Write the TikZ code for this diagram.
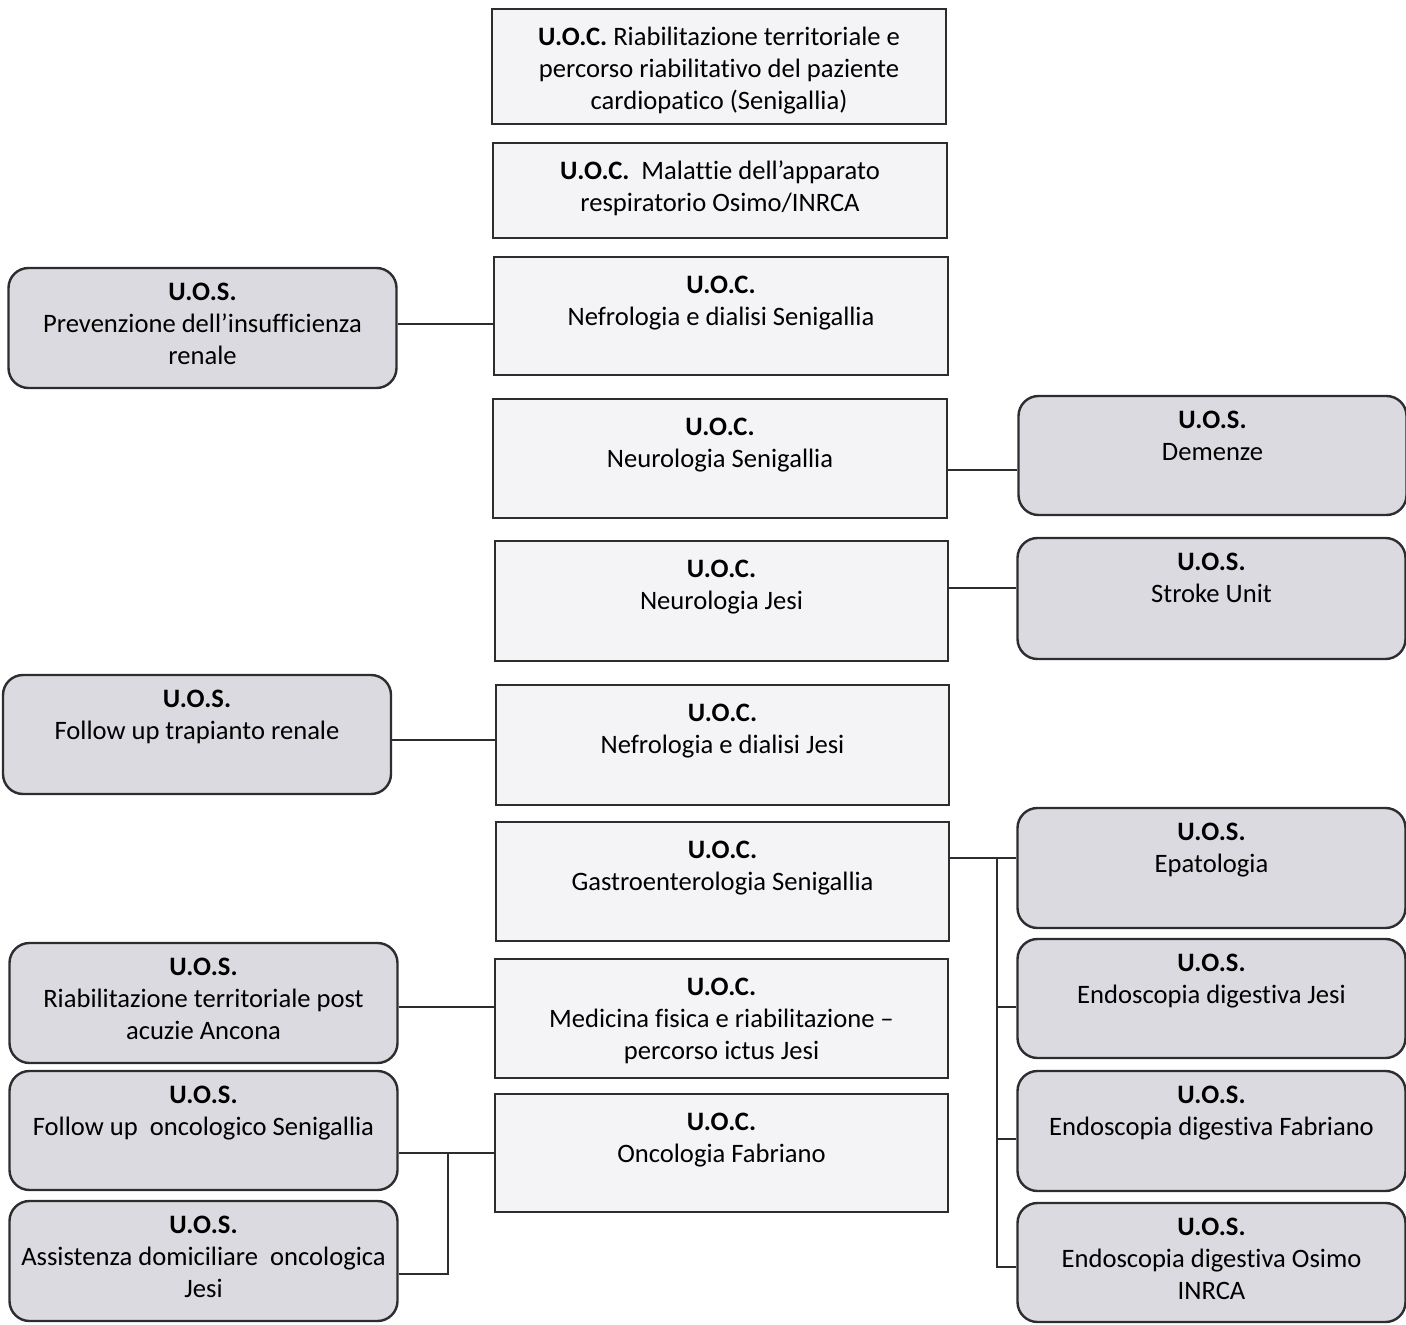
\documentclass[tikz,border=0pt]{standalone}
\usepackage{fontspec}
\setmainfont[Ligatures=NoCommon]{Carlito}
\definecolor{linec}{RGB}{45,45,48}
\definecolor{uocfill}{RGB}{244,244,246}
\definecolor{uosfill}{RGB}{218,218,224}
% box contents: height, width, text
\newcommand{\uoctxt}[3]{\parbox[c][#1pt][t]{#2pt}{\centering\rule{0pt}{18.2pt}#3}}
\newcommand{\uostxt}[2]{\parbox[c][#1pt][t]{194pt}{\centering\rule{0pt}{16.3pt}#2}}

\begin{document}
\begin{tikzpicture}[x=0.5pt,y=-0.5pt,
  font=\fontsize{13.3}{16}\selectfont,
  uoc/.style={draw=linec, fill=uocfill, line width=1.2pt, inner sep=0pt},
  uos/.style={uoc, fill=uosfill, rounded corners=10pt},
  link/.style={draw=linec, line width=1pt}]
\useasboundingbox (0,0) rectangle (1406,1325);
%\draw [help lines,step=100] (0,0) grid (1406,1325);

% U.O.C. column
\node [uoc] (riab) at (719,66.5) {\uoctxt{57.5}{227}{\textbf{U.O.C.} Riabilitazione territoriale e\\percorso riabilitativo del paziente\\cardiopatico (Senigallia)}};
\node [uoc] (mal) at (720,190.5) {\uoctxt{47.5}{227}{\textbf{U.O.C.}\ \ Malattie dell’apparato\\respiratorio Osimo/INRCA}};
\node [uoc] (nefsen) at (721,316) {\uoctxt{59}{227}{\textbf{U.O.C.}\\Nefrologia e dialisi Senigallia}};
\node [uoc] (neusen) at (720,458.5) {\uoctxt{59.5}{227}{\textbf{U.O.C.}\\Neurologia Senigallia}};
\node [uoc] (neujesi) at (721.5,601) {\uoctxt{60}{226.5}{\textbf{U.O.C.}\\Neurologia Jesi}};
\node [uoc] (nefjesi) at (722.5,745) {\uoctxt{60}{226.5}{\textbf{U.O.C.}\\Nefrologia e dialisi Jesi}};
\node [uoc] (gastro) at (722.5,881.5) {\uoctxt{59.5}{226.5}{\textbf{U.O.C.}\\Gastroenterologia Senigallia}};
\node [uoc] (medfis) at (721.5,1018.5) {\uoctxt{59.5}{226.5}{\textbf{U.O.C.}\\Medicina fisica e riabilitazione –\\percorso ictus Jesi}};
\node [uoc] (oncfab) at (721.5,1153) {\uoctxt{59}{226.5}{\textbf{U.O.C.}\\Oncologia Fabriano}};

% U.O.S. left
\node [uos] (prev) at (202.5,328) {\uostxt{60}{\textbf{U.O.S.}\\Prevenzione dell’insufficienza\\renale}};
\node [uos] (futr) at (197,734.5) {\uostxt{59.5}{\textbf{U.O.S.}\\Follow up trapianto renale}};
\node [uos] (riabpost) at (203.5,1003) {\uostxt{60}{\textbf{U.O.S.}\\Riabilitazione territoriale post\\acuzie Ancona}};
\node [uos] (fuonc) at (203.5,1130.5) {\uostxt{59.5}{\textbf{U.O.S.}\\Follow up\ \ oncologico Senigallia}};
\node [uos] (adom) at (203.5,1261) {\uostxt{60}{\textbf{U.O.S.}\\Assistenza domiciliare\ \ oncologica\\Jesi}};

% U.O.S. right
\node [uos] (dem) at (1212.5,455.5) {\uostxt{59.5}{\textbf{U.O.S.}\\Demenze}};
\node [uos] (stroke) at (1211.5,598.5) {\uostxt{60.5}{\textbf{U.O.S.}\\Stroke Unit}};
\node [uos] (epat) at (1211.5,868) {\uostxt{60}{\textbf{U.O.S.}\\Epatologia}};
\node [uos] (endjesi) at (1211.5,998.5) {\uostxt{59.5}{\textbf{U.O.S.}\\Endoscopia digestiva Jesi}};
\node [uos] (endfab) at (1211.5,1131) {\uostxt{60}{\textbf{U.O.S.}\\Endoscopia digestiva Fabriano}};
\node [uos] (endosimo) at (1211.5,1262.5) {\uostxt{59.5}{\textbf{U.O.S.}\\Endoscopia digestiva Osimo\\INRCA}};

% links
\draw [link] ([yshift=2pt]prev.east) -- ([yshift=2pt]prev.east -| nefsen.west);
\draw [link] ([yshift=-5.75pt]neusen.east) -- ([yshift=-5.75pt]neusen.east -| dem.west);
\draw [link] ([yshift=6.5pt]neujesi.east) -- ([yshift=6.5pt]neujesi.east -| stroke.west);
\draw [link] ([yshift=2.5pt]nefjesi.west) -- ([yshift=2.5pt]nefjesi.west -| futr.east);
\draw [link] ([yshift=-2pt]riabpost.east) -- ([yshift=-2pt]riabpost.east -| medfis.west);

\coordinate (gbus) at (997,858);
\draw [link] (gastro.east |- gbus) -- (epat.west |- gbus);
\draw [link] (gbus) |- ([yshift=-2pt]endosimo.west);
\draw [link] ([yshift=-4pt]endjesi.west -| gbus) -- ([yshift=-4pt]endjesi.west);
\draw [link] ([yshift=-4pt]endfab.west -| gbus) -- ([yshift=-4pt]endfab.west);

\coordinate (obus) at (448,1154);
\draw [link] (oncfab.west) -- (fuonc.east |- oncfab.west);
\draw [link] (obus) |- ([yshift=-6.5pt]adom.east);
\end{tikzpicture}
\end{document}
